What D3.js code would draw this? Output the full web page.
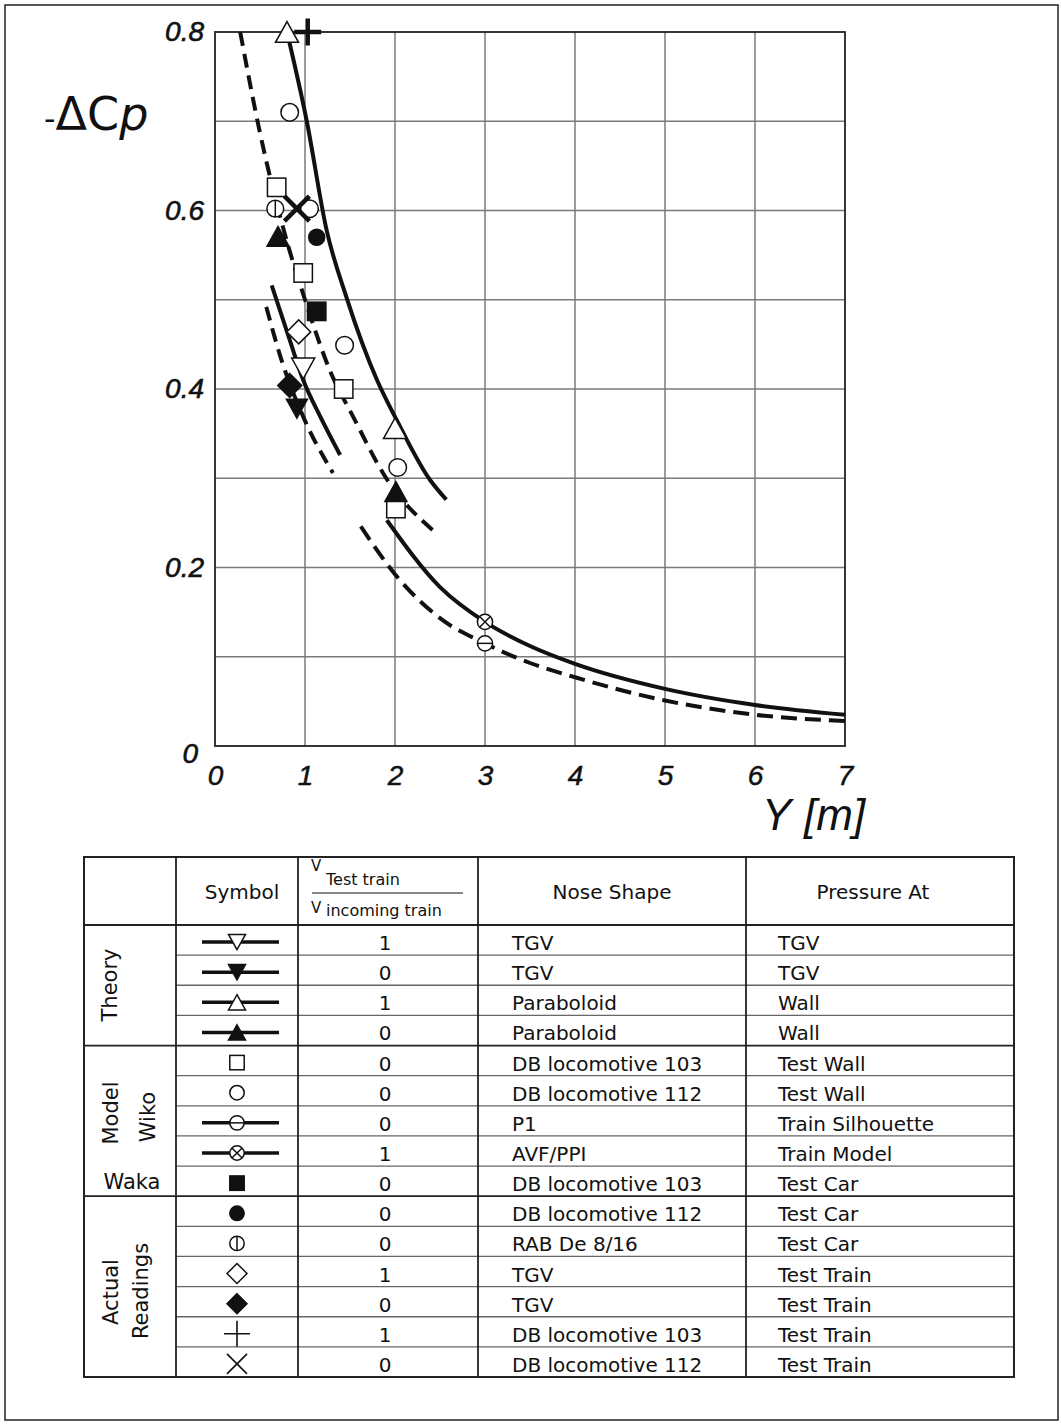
<!DOCTYPE html>
<html>
<head>
<meta charset="utf-8">
<script src="https://cdn.jsdelivr.net/npm/d3@7"></script>
<style>
  body { margin: 0; padding: 0; background: #fff; }
</style>
</head>
<body>
<script>
// ---- data ----
const xTicks = [0, 1, 2, 3, 4, 5, 6, 7]
const yTicks = [0, 0.2, 0.4, 0.6, 0.8]
const xGrid = [1, 2, 3, 4, 5, 6]
const yGrid = [0.1, 0.2, 0.3, 0.4, 0.5, 0.6, 0.7]

// theory / model curves  [Y, -dCp]
const curveParaboloid1 = [[0.80, 0.80], [1.02, 0.70], [1.24, 0.578], [1.46, 0.503], [1.80, 0.41], [2.02, 0.365], [2.39, 0.298], [2.57, 0.276]]
const curveParaboloid0 = [[0.28, 0.80], [0.50, 0.687], [0.80, 0.565], [1.00, 0.50], [1.28, 0.42], [1.54, 0.368], [1.89, 0.302], [2.44, 0.240]]
const curveTGV1 = [[0.63, 0.516], [0.83, 0.455], [0.98, 0.41], [1.17, 0.369], [1.39, 0.326]]
const curveTGV0 = [[0.57, 0.492], [0.74, 0.432], [0.98, 0.369], [1.31, 0.306]]
const curveAVF = [[1.91, 0.253], [2.5, 0.178], [3.0, 0.139], [3.5, 0.112], [4.0, 0.092], [5.0, 0.064], [6.0, 0.046], [7.0, 0.035]]
const curveP1 = [[1.62, 0.246], [2.02, 0.19], [2.53, 0.141], [3.0, 0.115], [3.5, 0.093], [4.0, 0.077], [5.0, 0.051], [6.0, 0.035], [7.0, 0.028]]

// measured points
const ptsTriUpOpen = [[0.80, 0.80], [2.0, 0.356]]
const ptsTriUpFilled = [[0.70, 0.571], [2.01, 0.285]]
const ptsTriDownOpen = [[0.98, 0.423]]
const ptsTriDownFilled = [[0.91, 0.378]]
const ptsSquareOpen = [[0.685, 0.626], [0.98, 0.53], [1.43, 0.40], [2.01, 0.266]]
const ptsCircleOpen = [[0.83, 0.71], [1.05, 0.602], [1.44, 0.449], [2.03, 0.312]]
const ptsCircleH = [[3.0, 0.115]]
const ptsCircleX = [[3.0, 0.139]]
const ptsSquareFilled = [[1.13, 0.487]]
const ptsCircleFilled = [[1.13, 0.57]]
const ptsCircleV = [[0.67, 0.602]]
const ptsDiamondOpen = [[0.93, 0.464]]
const ptsDiamondFilled = [[0.83, 0.404]]
const ptsPlus = [[1.03, 0.80]]
const ptsCross = [[0.91, 0.602]]

// legend table
const tableSymbols = ["triDownOpen", "triDownFilled", "triUpOpen", "triUpFilled", "squareOpen", "circleOpen", "circleH", "circleX", "squareFilled", "circleFilled", "circleV", "diamondOpen", "diamondFilled", "plus", "cross"]
const tableHasLine = [true, true, true, true, false, false, true, true, false, false, false, false, false, false, false]
const tableRatio = ["1", "0", "1", "0", "0", "0", "0", "1", "0", "0", "0", "1", "0", "1", "0"]
const tableNose = ["TGV", "TGV", "Paraboloid", "Paraboloid", "DB locomotive 103", "DB locomotive 112", "P1", "AVF/PPI", "DB locomotive 103", "DB locomotive 112", "RAB De 8/16", "TGV", "TGV", "DB locomotive 103", "DB locomotive 112"]
const tablePressure = ["TGV", "TGV", "Wall", "Wall", "Test Wall", "Test Wall", "Train Silhouette", "Train Model", "Test Car", "Test Car", "Test Car", "Test Train", "Test Train", "Test Train", "Test Train"]
const groupBreaks = [4, 9]

// ---- layout ----
const W = 1061, H = 1425
const svg = d3.select("body").append("svg")
  .attr("width", W).attr("height", H)
  .style("display", "block")

svg.append("rect")
  .attr("x", 5).attr("y", 5).attr("width", 1053).attr("height", 1415)
  .attr("fill", "none").attr("stroke", "#222").attr("stroke-width", 1.5)

const x = d3.scaleLinear().domain([0, 7]).range([215, 845])
const y = d3.scaleLinear().domain([0, 0.8]).range([746, 32])

const plot = svg.append("g")

// grid
plot.append("g").selectAll("line").data(xGrid).join("line")
  .attr("x1", d => x(d)).attr("x2", d => x(d))
  .attr("y1", y(0)).attr("y2", y(0.8))
  .attr("stroke", "#7a7a7a").attr("stroke-width", 1.5)
plot.append("g").selectAll("line").data(yGrid).join("line")
  .attr("x1", x(0)).attr("x2", x(7))
  .attr("y1", d => y(d)).attr("y2", d => y(d))
  .attr("stroke", "#7a7a7a").attr("stroke-width", 1.5)

plot.append("rect")
  .attr("x", x(0)).attr("y", y(0.8))
  .attr("width", x(7) - x(0)).attr("height", y(0) - y(0.8))
  .attr("fill", "none").attr("stroke", "#222").attr("stroke-width", 1.8)

// axes (labels only)
const xAxis = plot.append("g")
  .attr("transform", `translate(0,${y(0)})`)
  .call(d3.axisBottom(x).tickValues(xTicks).tickSize(0).tickPadding(19).tickFormat(d3.format("d")))
xAxis.select(".domain").remove()
xAxis.selectAll("text")
  .attr("font-family", "Liberation Sans, Arial, sans-serif")
  .attr("font-size", 28).attr("font-style", "italic")
  .attr("fill", "#111").attr("stroke", "#111").attr("stroke-width", 0.5)

const yAxis = plot.append("g")
  .attr("transform", `translate(${x(0)},0)`)
  .call(d3.axisLeft(y).tickValues(yTicks).tickSize(0).tickPadding(11).tickFormat(d => d === 0 ? "0" : d3.format(".1f")(d)))
yAxis.select(".domain").remove()
yAxis.selectAll("text")
  .attr("font-family", "Liberation Sans, Arial, sans-serif")
  .attr("font-size", 28).attr("font-style", "italic")
  .attr("fill", "#111").attr("stroke", "#111").attr("stroke-width", 0.6)
yAxis.selectAll(".tick").filter(d => d === 0).select("text")
  .attr("dx", -6).attr("dy", "0.6em")

// axis titles
svg.append("text")
  .attr("x", 44).attr("y", 130)
  .attr("font-family", "DejaVu Sans, sans-serif").attr("font-size", 46)
  .attr("fill", "#111")
  .call(t => {
    t.append("tspan").attr("font-size", 32).text("-")
    t.append("tspan").text("ΔC")
    t.append("tspan").attr("font-style", "italic").text("p")
  })
svg.append("text")
  .attr("x", 762).attr("y", 830)
  .attr("font-family", "Liberation Sans, Arial, sans-serif").attr("font-size", 44)
  .attr("font-style", "italic").attr("fill", "#111")
  .text("Y")
svg.append("text")
  .attr("x", 804).attr("y", 830)
  .attr("font-family", "Liberation Sans, Arial, sans-serif").attr("font-size", 44)
  .attr("font-style", "italic").attr("fill", "#111")
  .text("[m]")

// curves
const line = d3.line()
  .x(d => x(d[0])).y(d => y(d[1]))
  .curve(d3.curveMonotoneX)

const curves = [
  { pts: curveParaboloid1, dash: null },
  { pts: curveParaboloid0, dash: "14,8" },
  { pts: curveTGV1, dash: null },
  { pts: curveTGV0, dash: "14,8" },
  { pts: curveAVF, dash: null },
  { pts: curveP1, dash: "16,8" }
]
plot.append("g").selectAll("path").data(curves).join("path")
  .attr("d", d => line(d.pts))
  .attr("fill", "none").attr("stroke", "#111").attr("stroke-width", 4)
  .attr("stroke-dasharray", d => d.dash)

// symbol drawing
function drawSymbol(g, type, cx, cy, s, thin) {
  const k = g.append("g").attr("transform", `translate(${cx},${cy})`)
  const black = "#111"
  const sw = 1.5
  if (type.startsWith("triUp") || type.startsWith("triDown")) {
    const w = s, h = s * 0.9
    const p = type.startsWith("triUp")
      ? `M0,${-h / 2}L${w / 2},${h / 2}L${-w / 2},${h / 2}Z`
      : `M0,${h / 2}L${w / 2},${-h / 2}L${-w / 2},${-h / 2}Z`
    k.append("path").attr("d", p)
      .attr("fill", type.endsWith("Filled") ? black : "#fff")
      .attr("stroke", black).attr("stroke-width", sw)
  } else if (type === "squareOpen" || type === "squareFilled") {
    const a = s * 0.8
    k.append("rect").attr("x", -a / 2).attr("y", -a / 2).attr("width", a).attr("height", a)
      .attr("fill", type === "squareFilled" ? black : "#fff")
      .attr("stroke", black).attr("stroke-width", sw)
  } else if (type.startsWith("circle")) {
    const r = s * 0.4
    k.append("circle").attr("r", r)
      .attr("fill", type === "circleFilled" ? black : "#fff")
      .attr("stroke", black).attr("stroke-width", sw)
    if (type === "circleH") k.append("line").attr("x1", -r).attr("x2", r).attr("stroke", black).attr("stroke-width", sw)
    if (type === "circleV") k.append("line").attr("y1", -r).attr("y2", r).attr("stroke", black).attr("stroke-width", sw)
    if (type === "circleX") {
      const q = r * 0.7071
      k.append("path").attr("d", `M${-q},${-q}L${q},${q}M${q},${-q}L${-q},${q}`)
        .attr("stroke", black).attr("stroke-width", sw)
    }
  } else if (type.startsWith("diamond")) {
    const a = s / 2
    k.append("path").attr("d", `M0,${-a}L${a},0L0,${a}L${-a},0Z`)
      .attr("fill", type === "diamondFilled" ? black : "#fff")
      .attr("stroke", black).attr("stroke-width", sw)
  } else if (type === "plus") {
    const a = s / 2
    k.append("path").attr("d", `M${-a},0L${a},0M0,${-a}L0,${a}`)
      .attr("stroke", black).attr("stroke-width", thin ? 1.6 : 4.5)
  } else if (type === "cross") {
    const a = s / 2
    k.append("path").attr("d", `M${-a},${-a}L${a},${a}M${a},${-a}L${-a},${a}`)
      .attr("stroke", black).attr("stroke-width", thin ? 1.6 : 4.5)
  }
}

// measured points on the chart
const chartMarks = [
  { pts: ptsCircleOpen, type: "circleOpen", s: 22 },
  { pts: ptsSquareOpen, type: "squareOpen", s: 23 },
  { pts: ptsCircleV, type: "circleV", s: 21 },
  { pts: ptsTriUpOpen, type: "triUpOpen", s: 23 },
  { pts: ptsTriUpFilled, type: "triUpFilled", s: 22 },
  { pts: ptsTriDownOpen, type: "triDownOpen", s: 23 },
  { pts: ptsTriDownFilled, type: "triDownFilled", s: 21 },
  { pts: ptsSquareFilled, type: "squareFilled", s: 23 },
  { pts: ptsCircleFilled, type: "circleFilled", s: 20 },
  { pts: ptsDiamondOpen, type: "diamondOpen", s: 24 },
  { pts: ptsDiamondFilled, type: "diamondFilled", s: 24 },
  { pts: ptsCircleX, type: "circleX", s: 19 },
  { pts: ptsCircleH, type: "circleH", s: 19 },
  { pts: ptsCross, type: "cross", s: 25 },
  { pts: ptsPlus, type: "plus", s: 27 }
]
const marks = plot.append("g")
chartMarks.forEach(m => m.pts.forEach(p => drawSymbol(marks, m.type, x(p[0]), y(p[1]), m.s, false)))

// ---- legend table ----
const cols = [84, 176, 298, 478, 746, 1014]
const tTop = 857, hBottom = 925, tBottom = 1377
const rh = (tBottom - hBottom) / tableSymbols.length
const rowTop = i => hBottom + i * rh
const tFont = "DejaVu Sans, Verdana, sans-serif"

const table = svg.append("g")

// inner row lines
table.append("g").selectAll("line")
  .data(d3.range(1, tableSymbols.length).filter(i => !groupBreaks.includes(i)))
  .join("line")
  .attr("x1", cols[1]).attr("x2", cols[5])
  .attr("y1", d => rowTop(d)).attr("y2", d => rowTop(d))
  .attr("stroke", "#666").attr("stroke-width", 1.3)
// group lines
table.append("g").selectAll("line").data([0].concat(groupBreaks)).join("line")
  .attr("x1", cols[0]).attr("x2", cols[5])
  .attr("y1", d => rowTop(d)).attr("y2", d => rowTop(d))
  .attr("stroke", "#222").attr("stroke-width", 1.8)
// column lines
table.append("g").selectAll("line").data(cols.slice(1, 5)).join("line")
  .attr("x1", d => d).attr("x2", d => d)
  .attr("y1", tTop).attr("y2", tBottom)
  .attr("stroke", "#222").attr("stroke-width", 1.8)
table.append("rect")
  .attr("x", cols[0]).attr("y", tTop)
  .attr("width", cols[5] - cols[0]).attr("height", tBottom - tTop)
  .attr("fill", "none").attr("stroke", "#222").attr("stroke-width", 2)

// header
const head = table.append("g").attr("font-family", tFont).attr("fill", "#111")
head.append("text").attr("x", 242).attr("y", 899).attr("text-anchor", "middle").attr("font-size", 20).text("Symbol")
head.append("text").attr("x", 612).attr("y", 899).attr("text-anchor", "middle").attr("font-size", 20).text("Nose Shape")
head.append("text").attr("x", 873).attr("y", 899).attr("text-anchor", "middle").attr("font-size", 20).text("Pressure At")
head.append("text").attr("x", 311).attr("y", 871).attr("font-size", 15).text("V")
head.append("text").attr("x", 326).attr("y", 885).attr("font-size", 16).text("Test train")
head.append("line").attr("x1", 312).attr("x2", 463).attr("y1", 893).attr("y2", 893)
  .attr("stroke", "#111").attr("stroke-width", 1.2)
head.append("text").attr("x", 311).attr("y", 913).attr("font-size", 15).text("V")
head.append("text").attr("x", 326).attr("y", 916).attr("font-size", 16).text("incoming train")

// rows
const body = table.append("g").attr("font-family", tFont).attr("font-size", 20).attr("fill", "#111")
tableSymbols.forEach((sym, i) => {
  const cy = rowTop(i) + rh / 2 + 2
  if (tableHasLine[i]) {
    body.append("line").attr("x1", 202).attr("x2", 279).attr("y1", cy).attr("y2", cy)
      .attr("stroke", "#111").attr("stroke-width", 3.5)
  }
  const s = sym === "plus" ? 26 : sym === "cross" ? 20 : sym.startsWith("diamond") ? 20 : sym.startsWith("tri") ? 17 : 18
  drawSymbol(body, sym, 237, cy, s, true)
  body.append("text").attr("x", 385).attr("y", cy + 8).attr("text-anchor", "middle").text(tableRatio[i])
  body.append("text").attr("x", 512).attr("y", cy + 8).text(tableNose[i])
  body.append("text").attr("x", 778).attr("y", cy + 8).text(tablePressure[i])
})

// group labels
const lab = table.append("g").attr("font-family", tFont).attr("font-size", 21).attr("fill", "#111").attr("text-anchor", "middle")
const vLabel = (txt, cx, cy) => lab.append("text")
  .attr("transform", `translate(${cx},${cy}) rotate(-90)`).attr("dy", "0.35em").text(txt)
vLabel("Theory", 110, 985)
vLabel("Model", 111, 1113)
vLabel("Wiko", 148, 1117)
lab.append("text").attr("x", 132).attr("y", 1189).text("Waka")
vLabel("Actual", 111, 1292)
vLabel("Readings", 141, 1291)
</script>
</body>
</html>
